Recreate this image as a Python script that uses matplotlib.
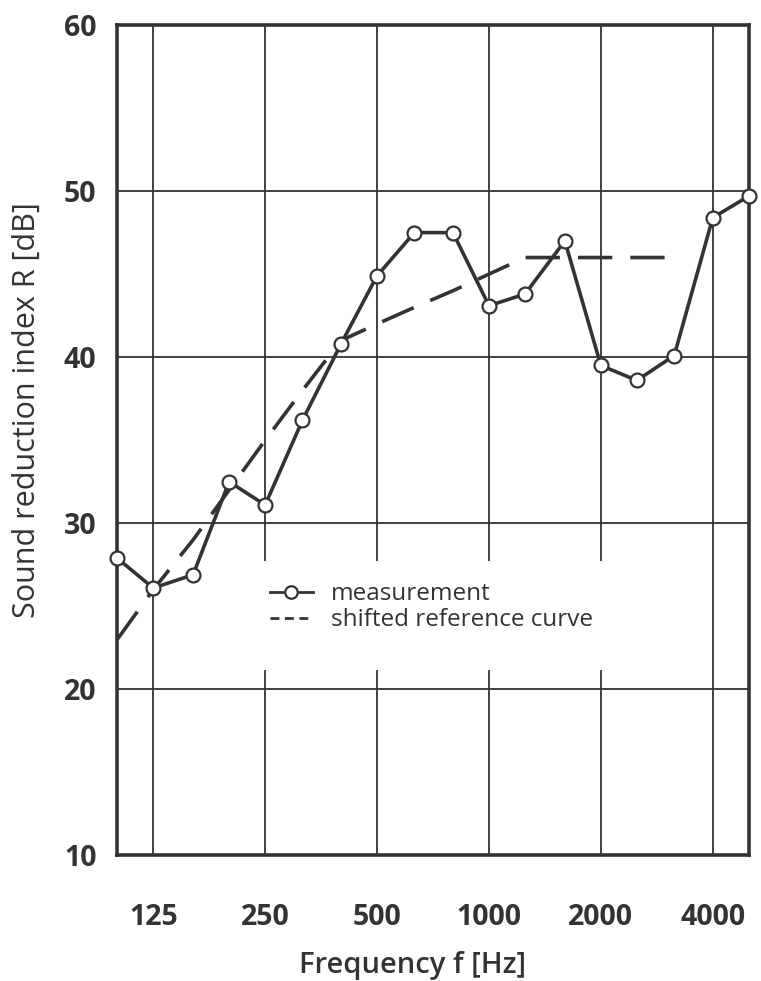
import numpy as np
import matplotlib
matplotlib.use("Agg")
import matplotlib.pyplot as plt
from matplotlib.lines import Line2D
from matplotlib.patches import Rectangle

# third-octave bands, Hz
freqs = [100, 125, 160, 200, 250, 315, 400, 500, 630, 800,
         1000, 1250, 1600, 2000, 2500, 3150, 4000, 5000]
measured = [27.9, 26.1, 26.9, 32.5, 31.1, 36.2, 40.8, 44.9, 47.5, 47.5,
            43.1, 43.8, 47.0, 39.5, 38.6, 40.1, 48.4, 49.7]

# shifted reference curve (100 .. 3150 Hz)
ref_freqs = freqs[:16]
ref_values = [23, 26, 29, 32, 35, 38, 41, 42, 43, 44, 45, 46, 46, 46, 46, 46]

xticks = [125, 250, 500, 1000, 2000, 4000]
yticks = [10, 20, 30, 40, 50, 60]

dark = '#333333'
plt.rcParams['font.family'] = ['Open Sans', 'DejaVu Sans']

fig = plt.figure(figsize=(7.61, 9.81), dpi=100)
ax = fig.add_axes([0.154, 0.128, 0.830, 0.8465])

ax.set_xscale('log')
ax.set_xlim(100, 5000)
ax.set_ylim(10, 60)

ax.set_xticks(xticks)
ax.set_xticklabels([str(t) for t in xticks])
ax.xaxis.set_minor_locator(matplotlib.ticker.NullLocator())
ax.set_yticks(yticks)

ax.tick_params(axis='both', length=0, labelsize=20.5, labelcolor=dark)
ax.tick_params(axis='x', pad=34)
ax.tick_params(axis='y', pad=15)
for lab in ax.get_xticklabels() + ax.get_yticklabels():
    lab.set_fontweight('bold')

ax.grid(True, color=dark, linewidth=1.3)
ax.set_axisbelow(True)

for sp in ax.spines.values():
    sp.set_linewidth(2.6)
    sp.set_color(dark)

ax.plot(ref_freqs, ref_values, color=dark, linewidth=2.6,
        dashes=(9.5, 5), dash_capstyle='butt', zorder=3, clip_on=False)
ax.plot(freqs, measured, color=dark, linewidth=2.6, marker='o',
        markersize=10, markerfacecolor='white', markeredgecolor=dark,
        markeredgewidth=1.6, zorder=4, clip_on=False)

# white patch behind the legend, hides the grid there
ax.add_patch(Rectangle((0.218, 0.223), 0.562, 0.132, transform=ax.transAxes,
                       facecolor='white', edgecolor='none', zorder=1.5))

handles = [
    Line2D([0], [0], color=dark, linewidth=2.0, marker='o', markersize=9,
           markerfacecolor='white', markeredgecolor=dark, markeredgewidth=1.6),
    Line2D([0], [0], color=dark, linewidth=2.0, dashes=(3.2, 2.0)),
]
leg = ax.legend(handles, ['measurement', 'shifted reference curve'],
                loc='center left', bbox_to_anchor=(0.223, 0.299),
                frameon=False, fontsize=17.5, handlelength=1.75,
                handletextpad=0.75, labelspacing=0.08, borderpad=0)
for t in leg.get_texts():
    t.set_color(dark)

ax.set_xlabel('Frequency f [Hz]', fontsize=21, color=dark,
              fontweight='semibold', labelpad=10)
ax.xaxis.set_label_coords(0.467, -0.115)
ax.set_ylabel('Sound reduction index R [dB]', fontsize=22, color=dark)
ax.yaxis.set_label_coords(-0.120, 0.536)

fig.savefig('out.png', dpi=100)
